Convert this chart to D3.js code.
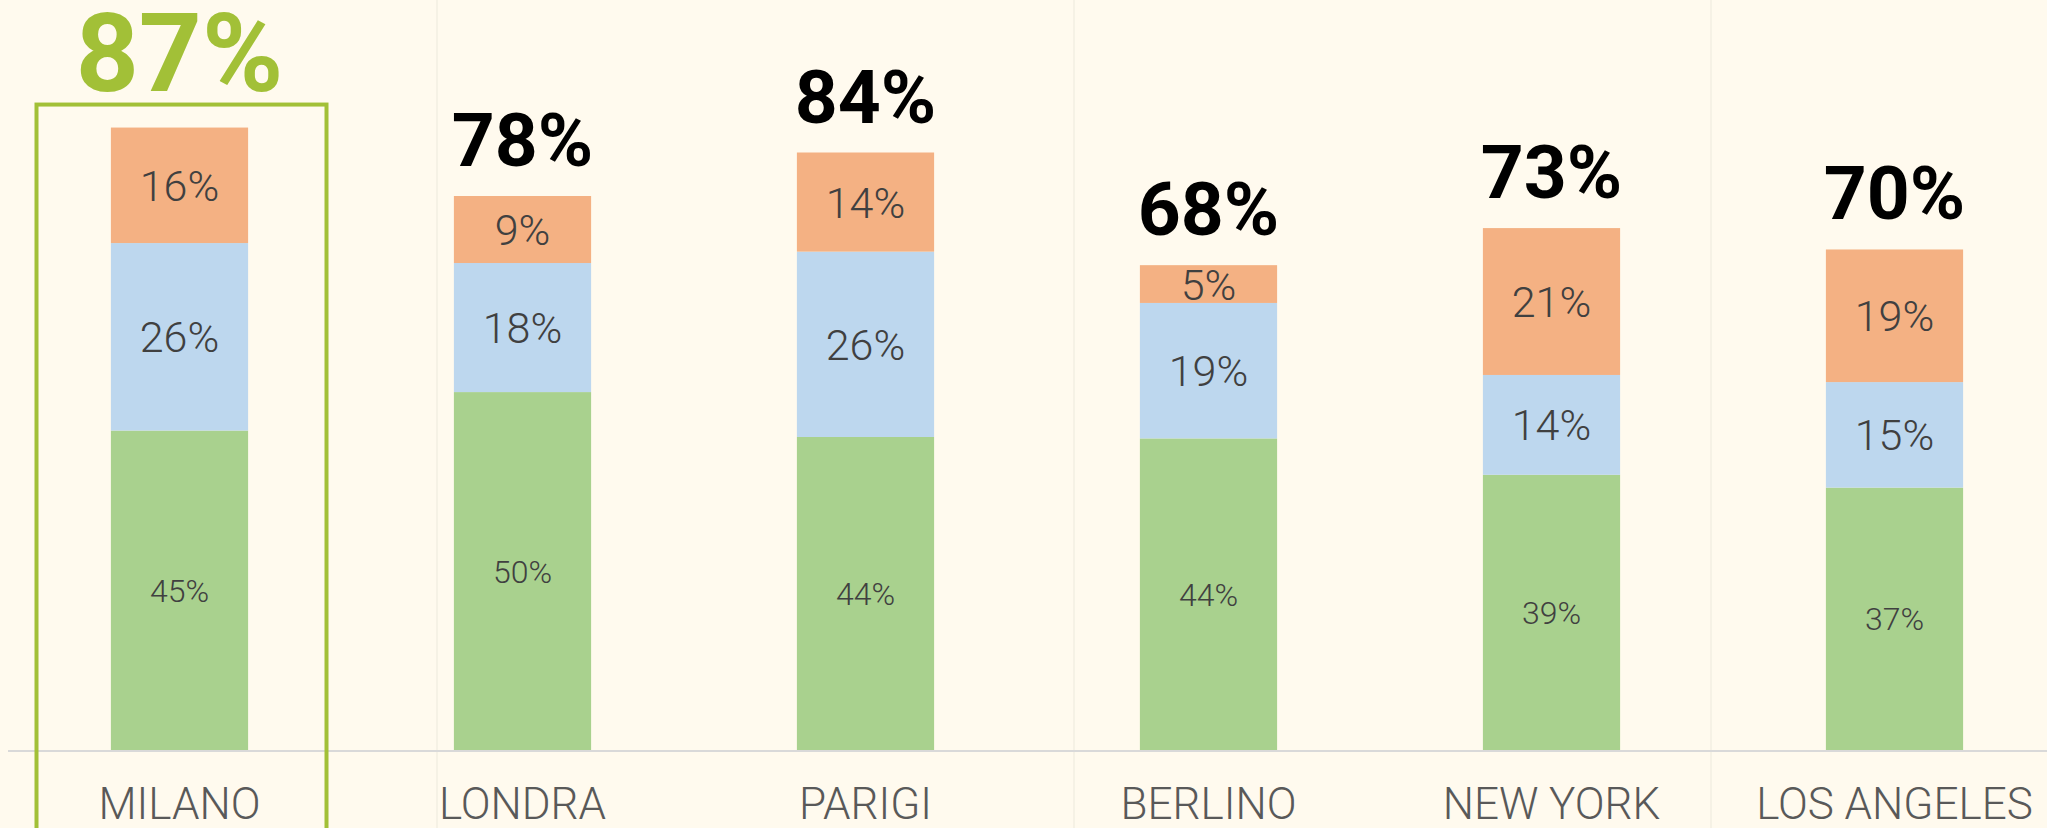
<!DOCTYPE html>
<html>
<head>
<meta charset="utf-8">
<script src="https://cdn.jsdelivr.net/npm/d3@7"></script>
<style>
  html, body { margin: 0; padding: 0; background: #fffaee; overflow: hidden; }
  text { font-family: Roboto, "Noto Sans", sans-serif; }
</style>
</head>
<body>
<div id="chart"></div>
<script>
// data
var cities = ["MILANO", "LONDRA", "PARIGI", "BERLINO", "NEW YORK", "LOS ANGELES"];
var greenVals = [44.8, 50.2, 43.9, 43.7, 38.6, 36.8];
var blueVals = [26.3, 18.1, 26.0, 19.0, 14.0, 14.8];
var orangeVals = [16.2, 9.4, 13.9, 5.3, 20.6, 18.6];
var highlightCity = "MILANO";

var w = 2047;
var h = 828;

var rows = cities.map(function(c, i) {
  return { city: c, green: greenVals[i], blue: blueVals[i], orange: orangeVals[i] };
});
rows.forEach(d => { d.total = d.green + d.blue + d.orange; });

var keys = ["green", "blue", "orange"];
var colors = d3.scaleOrdinal()
  .domain(keys)
  .range(["#a9d18e", "#bdd7ee", "#f4b183"]);

var svg = d3.select("#chart")
  .append("svg")
  .attr("width", w)
  .attr("height", h);

svg.append("rect")
  .attr("width", w)
  .attr("height", h)
  .attr("fill", "#fffaee");

// x is categorical
var xScale = d3.scaleBand()
  .domain(cities)
  .range([8, 2066])
  .paddingInner(0.6)
  .paddingOuter(0.3);

var yScale = d3.scaleLinear()
  .domain([0, 100])
  .range([750, 37]);

// faint vertical gridlines in the background
var gridScale = d3.scaleLinear().domain([0, 1]).range([437, 1074]);
svg.selectAll(".grid")
  .data([0, 1, 2])
  .enter()
  .append("line")
  .attr("class", "grid")
  .attr("x1", d => gridScale(d))
  .attr("x2", d => gridScale(d))
  .attr("y1", 0)
  .attr("y2", h)
  .attr("stroke", "#ece9dc")
  .attr("stroke-width", 1);

// stacked bars
var stacked = d3.stack().keys(keys)(rows);

var layers = svg.selectAll(".layer")
  .data(stacked)
  .enter()
  .append("g")
  .attr("class", "layer")
  .attr("fill", d => colors(d.key));

layers.selectAll("rect")
  .data(d => d)
  .enter()
  .append("rect")
  .attr("x", d => xScale(d.data.city))
  .attr("y", d => yScale(d[1]))
  .attr("width", xScale.bandwidth())
  .attr("height", d => yScale(d[0]) - yScale(d[1]));

// segment labels
layers.selectAll("text")
  .data(function(d) { return d.map(p => ({ key: d.key, p: p })); })
  .enter()
  .append("text")
  .attr("x", d => xScale(d.p.data.city) + xScale.bandwidth() / 2)
  .attr("y", d => (yScale(d.p[0]) + yScale(d.p[1])) / 2)
  .attr("dy", "0.36em")
  .attr("text-anchor", "middle")
  .attr("font-size", d => d.key === "green" ? "32px" : "43px")
  .attr("font-weight", 300)
  .attr("fill", "#404040")
  .text(d => Math.round(d.p.data[d.key]) + "%");

// x axis line
svg.append("line")
  .attr("x1", 8)
  .attr("x2", w)
  .attr("y1", yScale(0) + 1)
  .attr("y2", yScale(0) + 1)
  .attr("stroke", "#d9d9d9")
  .attr("stroke-width", 2);

// category labels
svg.selectAll(".cat")
  .data(cities)
  .enter()
  .append("text")
  .attr("class", "cat")
  .attr("x", d => xScale(d) + xScale.bandwidth() / 2)
  .attr("y", 819)
  .attr("text-anchor", "middle")
  .attr("font-size", "44px")
  .attr("font-weight", 300)
  .attr("fill", "#595959")
  .text(d => d);

// totals above bars
svg.selectAll(".total")
  .data(rows)
  .enter()
  .append("text")
  .attr("class", "total")
  .attr("x", d => xScale(d.city) + xScale.bandwidth() / 2)
  .attr("y", d => d.city === highlightCity ? yScale(d.total) - 37 : yScale(d.total) - 30)
  .attr("text-anchor", "middle")
  .attr("font-size", d => d.city === highlightCity ? "110px" : "75px")
  .attr("font-weight", 700)
  .attr("fill", d => d.city === highlightCity ? "#a2c037" : "#000")
  .text(d => Math.round(d.total) + "%");

// highlight box around the best city
var hx = xScale(highlightCity) + xScale.bandwidth() / 2;
var hTop = rows.find(d => d.city === highlightCity);
svg.append("rect")
  .attr("x", hx - 143)
  .attr("y", yScale(hTop.total) - 23)
  .attr("width", 290)
  .attr("height", 900)
  .attr("fill", "none")
  .attr("stroke", "#a2c037")
  .attr("stroke-width", 4);
</script>
</body>
</html>
